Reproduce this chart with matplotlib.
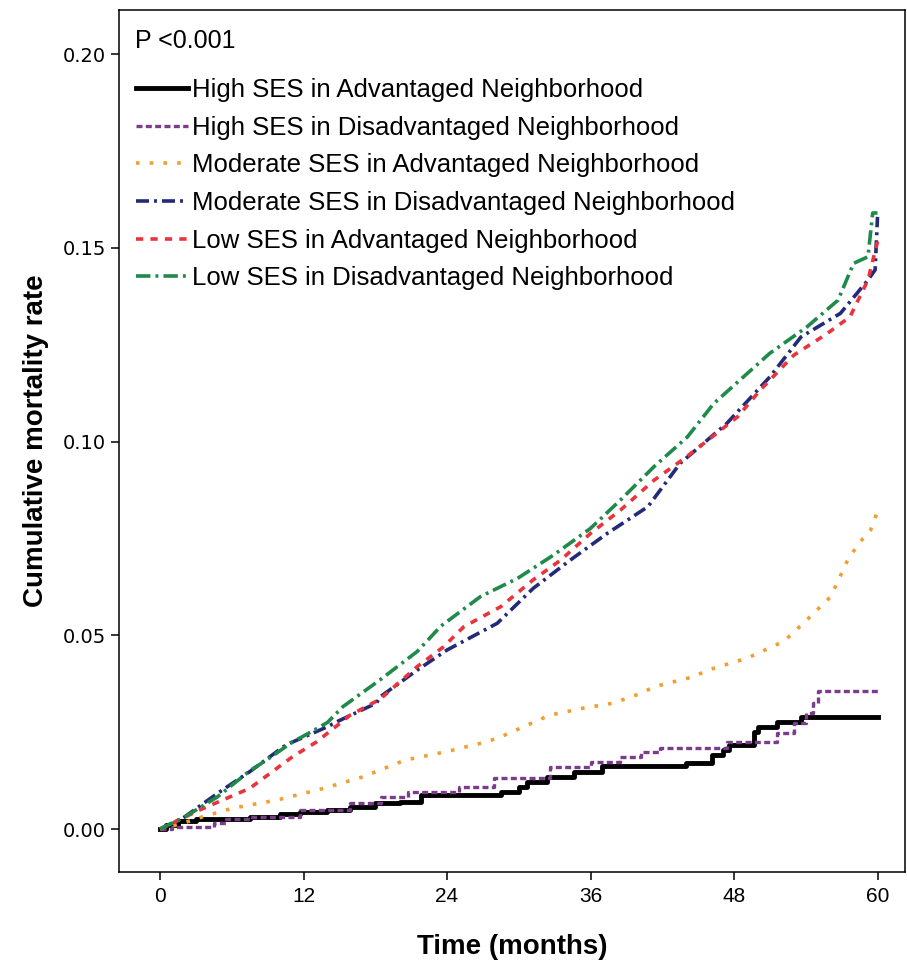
"""Cumulative mortality by SES and neighborhood"""
import matplotlib
matplotlib.use("Agg")
import matplotlib.pyplot as plt

# months / cumulative mortality
high_adv_t = [0, 0.5, 1.5, 3, 7.5, 10, 11.7, 14, 15.9, 18, 20.1, 21.8, 28.5, 30, 30.7,
              32.4, 34.6, 37, 44, 46.2, 47.1, 47.6, 49.7, 50, 51.6, 53.6, 60]
high_adv_v = [0, 0.001, 0.002, 0.0026, 0.0032, 0.0038, 0.0045, 0.005, 0.0058, 0.0066,
              0.0071, 0.0088, 0.0096, 0.0109, 0.0122, 0.0135, 0.0148, 0.0163, 0.0171,
              0.0191, 0.0204, 0.0217, 0.0251, 0.0264, 0.0277, 0.029, 0.029]

high_dis_t = [0, 1, 4.5, 5.5, 7.5, 11.7, 15.9, 18.5, 20.7, 25, 27.9, 32.6, 36, 38.5,
              40.2, 41.8, 47.4, 51.6, 53, 54, 54.6, 55, 60]
high_dis_v = [0, 0.0006, 0.0015, 0.0026, 0.0032, 0.0049, 0.0067, 0.0083, 0.0096, 0.0109,
              0.0131, 0.0161, 0.0174, 0.0187, 0.0200, 0.0209, 0.0225, 0.0247, 0.0273,
              0.0299, 0.0325, 0.0356, 0.0356]

mod_adv_t = [0, 1.9, 3.6, 6.1, 9.8, 13.7, 17, 20.5, 24, 27.3, 28.5, 32.6, 35.4, 37.9,
             40.2, 41.3, 44.6, 45.8, 49.1, 52.2, 54.1, 56.1, 57.5, 58.5, 59.4, 60]
mod_adv_v = [0, 0.0015, 0.0032, 0.0054, 0.0075, 0.0105, 0.0135, 0.0178, 0.020, 0.0225,
             0.0238, 0.0294, 0.0312, 0.0325, 0.035, 0.0367, 0.0393, 0.041, 0.0441,
             0.0485, 0.054, 0.060, 0.0694, 0.074, 0.077, 0.082]

mod_dis_t = [0, 2, 4.8, 7.5, 10.3, 10.9, 14, 14.8, 18.1, 18.4, 21.5, 24, 28.2, 31.2,
             34.3, 37.4, 40.8, 43.5, 47.4, 51, 53.6, 56.9, 59.2, 59.8, 60]
mod_dis_v = [0, 0.003, 0.0092, 0.0148, 0.0212, 0.0222, 0.0264, 0.0277, 0.0325, 0.0341,
             0.041, 0.0462, 0.0531, 0.0621, 0.0694, 0.0763, 0.0832, 0.0944, 0.1047,
             0.1167, 0.127, 0.1331, 0.1417, 0.1443, 0.158]

low_adv_t = [0, 3.3, 7.5, 11.1, 13.1, 15.9, 18.4, 21.5, 23.7, 25.4, 28.5, 31.2, 33.5,
             36, 38.5, 41.3, 44, 46, 48.3, 50.2, 53, 55.8, 57.7, 59.2, 60]
low_adv_v = [0, 0.0049, 0.0105, 0.0187, 0.0225, 0.0294, 0.0335, 0.0419, 0.047, 0.0522,
             0.0574, 0.0643, 0.0694, 0.0763, 0.0823, 0.09, 0.096, 0.1008, 0.1064,
             0.1133, 0.1223, 0.1279, 0.1322, 0.1417, 0.1516]

low_dis_t = [0, 2, 4.8, 7.5, 9, 11.1, 12.3, 14, 15.3, 18.4, 21.5, 23.5, 26.8, 29.9,
             32.9, 36, 38.5, 41.3, 44.1, 46.3, 48.5, 51, 54.1, 56.7, 58, 59.2, 59.6, 60]
low_dis_v = [0, 0.003, 0.0083, 0.015, 0.018, 0.0225, 0.0245, 0.0275, 0.0316, 0.0385,
             0.0458, 0.0524, 0.060, 0.0647, 0.0707, 0.0776, 0.0849, 0.0935, 0.1012,
             0.1098, 0.1159, 0.1228, 0.1296, 0.1365, 0.146, 0.1477, 0.159, 0.159]

labels = ["High SES in Advantaged Neighborhood",
          "High SES in Disadvantaged Neighborhood",
          "Moderate SES in Advantaged Neighborhood",
          "Moderate SES in Disadvantaged Neighborhood",
          "Low SES in Advantaged Neighborhood",
          "Low SES in Disadvantaged Neighborhood"]

x_ticks = [0, 12, 24, 36, 48, 60]
y_ticks = [0.00, 0.05, 0.10, 0.15, 0.20]

fig = plt.figure(figsize=(9.07, 9.67), dpi=100)
ax = fig.add_axes([0.1312, 0.0982, 0.8666, 0.8915])

ax.plot(high_adv_t, high_adv_v, drawstyle="steps-post", color="black", lw=3.5,
        label=labels[0])
ax.plot(high_dis_t, high_dis_v, drawstyle="steps-post", color="#7a3d8a", lw=2.4,
        dashes=(1.8, 1.0), label=labels[1])
ax.plot(mod_adv_t, mod_adv_v, color="#f0a030", lw=2.6, dashes=(1.0, 2.8),
        label=labels[2])
ax.plot(mod_dis_t, mod_dis_v, color="#232a78", lw=2.6, dashes=(3.6, 1.4, 0.8, 1.4),
        label=labels[3])
ax.plot(low_adv_t, low_adv_v, color="#e8343c", lw=2.6, dashes=(2.0, 2.0),
        label=labels[4])
ax.plot(low_dis_t, low_dis_v, color="#1f8a4a", lw=2.6, dashes=(4.0, 1.4, 0.8, 1.4),
        label=labels[5])

ax.set_xlim(-3.43, 62.3)
ax.set_ylim(-0.0111, 0.2114)
ax.set_xticks(x_ticks)
ax.set_xticklabels([str(t) for t in x_ticks], family="Liberation Sans", fontsize=15)
ax.set_yticks(y_ticks)
ax.set_yticklabels(["%.2f" % t for t in y_ticks], family="DejaVu Sans", fontsize=14)
ax.tick_params(direction="out", length=6, width=1.1)
ax.tick_params(axis="x", pad=5)
for sp in ax.spines.values():
    sp.set_linewidth(1.1)

ax.set_xlabel("Time (months)", family="Liberation Sans", fontsize=20,
              fontweight="bold", labelpad=20)
ax.set_ylabel("Cumulative mortality rate", family="Liberation Sans", fontsize=20,
              fontweight="bold", labelpad=10)

ax.text(0.02, 0.964, "P <0.001", transform=ax.transAxes, fontsize=18,
        family="Liberation Sans", va="center", ha="left")

ax.legend(loc="upper left", bbox_to_anchor=(0.022, 0.921), frameon=False,
          borderpad=0, borderaxespad=0, handlelength=2.0, handletextpad=0.15,
          labelspacing=0.53, prop={"family": "Liberation Sans", "size": 18.5})

fig.savefig("out.png", dpi=100)
